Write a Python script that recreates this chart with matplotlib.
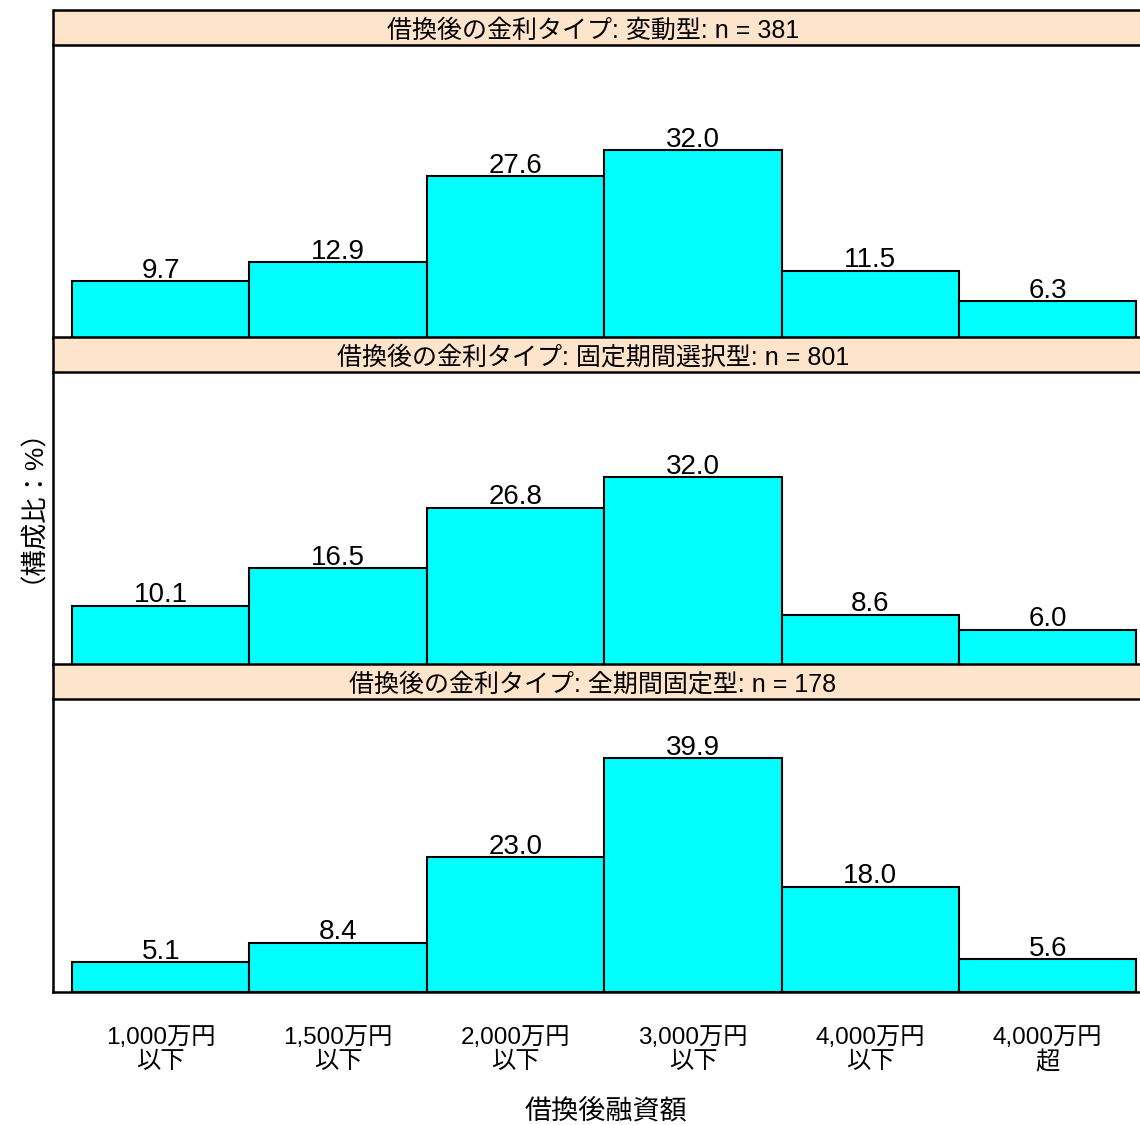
import matplotlib
matplotlib.use("Agg")
import matplotlib.pyplot as plt
from matplotlib.patches import Rectangle

plt.rcParams['font.family'] = ['Liberation Sans', 'Noto Sans CJK JP']

categories = ["1,000万円\n以下", "1,500万円\n以下", "2,000万円\n以下",
              "3,000万円\n以下", "4,000万円\n以下", "4,000万円\n超"]
panel_titles = ["借換後の金利タイプ: 変動型: n = 381",
                "借換後の金利タイプ: 固定期間選択型: n = 801",
                "借換後の金利タイプ: 全期間固定型: n = 178"]
hendo = [9.7, 12.9, 27.6, 32.0, 11.5, 6.3]
kotei_sentaku = [10.1, 16.5, 26.8, 32.0, 8.6, 6.0]
zen_kotei = [5.1, 8.4, 23.0, 39.9, 18.0, 5.6]
series = [hendo, kotei_sentaku, zen_kotei]

W, H = 1140, 1125
fig = plt.figure(figsize=(W / 100, H / 100), dpi=100)

left = 53 / W
width = (1143 - 53) / W
panel_h = 293
strip_h = 35
bottoms = [338, 665, 992]

x = list(range(len(categories)))
for i, (vals, title) in enumerate(zip(series, panel_titles)):
    ax = fig.add_axes([left, 1 - bottoms[i] / H, width, panel_h / H])
    ax.bar(x, vals, width=1.0, color='#00FFFF', edgecolor='black', linewidth=1.5)
    ax.set_xlim(-0.607, 5.537)
    ax.set_ylim(0, 50)
    for xi, v in zip(x, vals):
        ax.annotate(f"{v:.1f}", (xi, v), xytext=(0, 2.5), textcoords='offset points',
                    ha='center', va='baseline', fontsize=20)
    for s in ['top', 'right']:
        ax.spines[s].set_visible(False)
    for s in ['left', 'bottom']:
        ax.spines[s].set_linewidth(1.8)
    ax.set_yticks([])
    ax.tick_params(axis='x', length=0)
    if i < 2:
        ax.set_xticks([])
    else:
        ax.set_xticks(x)
        ax.set_xticklabels(categories, fontsize=17.5, linespacing=1.15)
        ax.tick_params(axis='x', pad=25)
    sh = strip_h / panel_h
    ax.add_patch(Rectangle((0, 1), 1, sh, transform=ax.transAxes, clip_on=False,
                           facecolor='#FFE4CC', edgecolor='black', linewidth=1.8, zorder=5))
    ax.text(0.5 - 5 / 1090, 1 + 2 / panel_h, title, transform=ax.transAxes,
            ha='center', va='bottom', fontsize=18, zorder=6)

fig.text(19 / W, 1 - 492 / H, "（構成比：%）", rotation=90, ha='center', va='center', fontsize=19)
fig.text(606 / W, 1 - 1111 / H, "借換後融資額", ha='center', va='center', fontsize=19.5)

fig.savefig("out.png", dpi=100)
